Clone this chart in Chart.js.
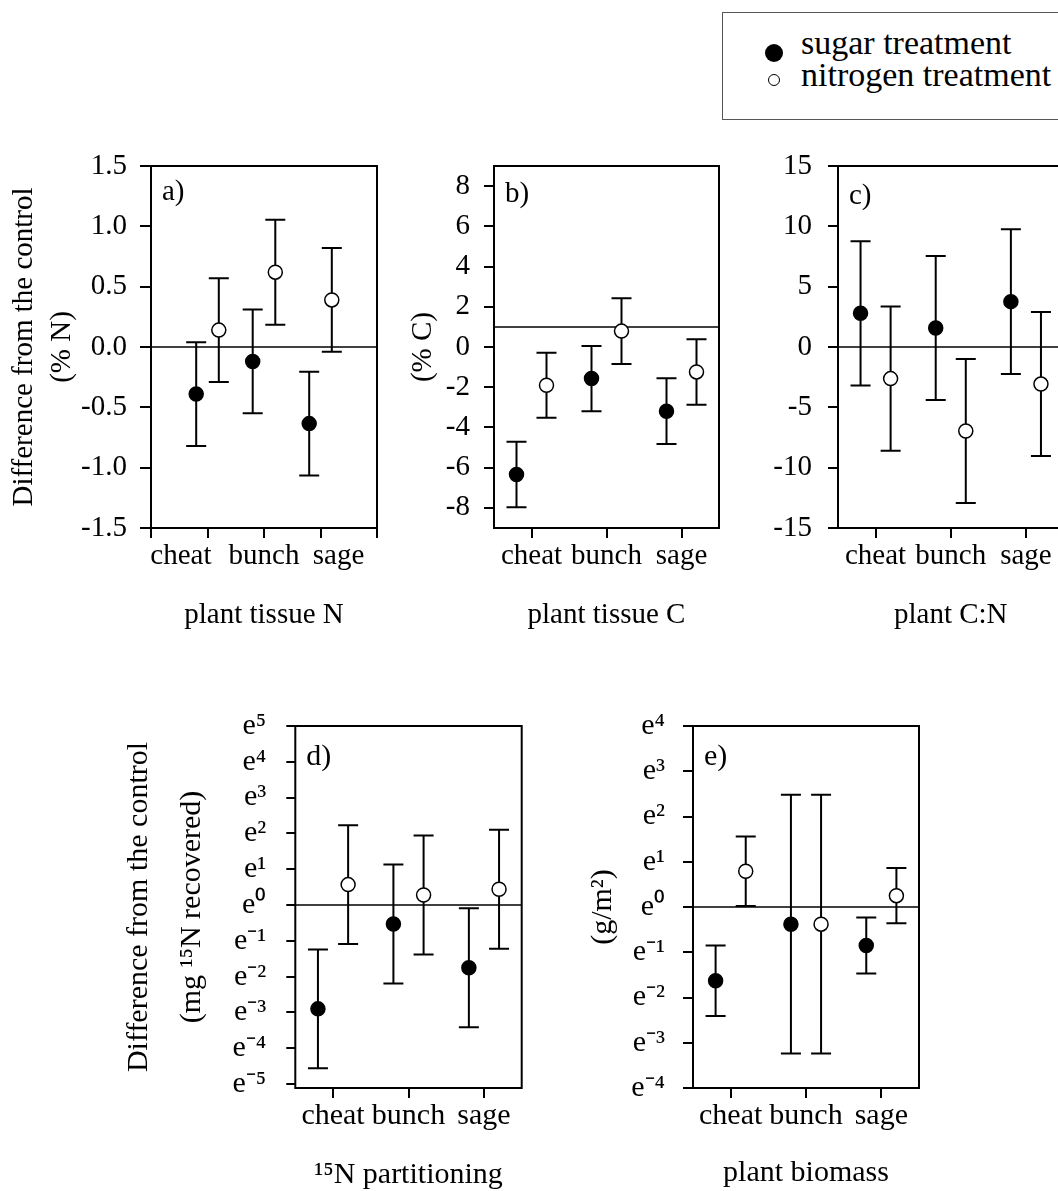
<!DOCTYPE html>
<html>
<head>
<meta charset="utf-8">
<script src="https://cdn.jsdelivr.net/npm/chart.js@4.4.0/dist/chart.umd.min.js"></script>
<style>
    html, body { margin: 0; padding: 0; width: 1058px; height: 1191px; overflow: hidden; background: #fff; }
    canvas.panel { position: absolute; }
    #legend {
        position: absolute; left: 722px; top: 12px; width: 420px; height: 108px;
        border: 1.5px solid #555; box-sizing: border-box;
        font-family: 'Liberation Serif', 'Times New Roman', serif; font-size: 34px; color: #000;
    }
    #legend .dot { position: absolute; border-radius: 50%; box-sizing: border-box; }
    #legend .filled { left: 42px; top: 31px; width: 18px; height: 18px; background: #000; }
    #legend .open { left: 45px; top: 61px; width: 12px; height: 12px; border: 1.5px solid #000; background: #fff; }
    #legend .txt { position: absolute; left: 78px; line-height: 34px; white-space: nowrap; }
</style>
</head>
<body>

<div id="legend">
    <span class="dot filled"></span><span class="txt" style="top:13px">sugar treatment</span>
    <span class="dot open"></span><span class="txt" style="top:45px">nitrogen treatment</span>
</div>

<canvas id="chartA" class="panel" width="390" height="520" style="left:0;top:120px"></canvas>
<canvas id="chartB" class="panel" width="340" height="520" style="left:390px;top:120px"></canvas>
<canvas id="chartC" class="panel" width="345" height="520" style="left:730px;top:120px"></canvas>
<canvas id="chartD" class="panel" width="440" height="520" style="left:100px;top:680px"></canvas>
<canvas id="chartE" class="panel" width="400" height="520" style="left:540px;top:680px"></canvas>

<script>
const categories = ['cheat', 'bunch', 'sage'];

// a) plant tissue N (% N)
const tissueNSugar = [-0.39, -0.12, -0.635];
const tissueNSugarErr = [0.43, 0.43, 0.43];
const tissueNNitrogen = [0.14, 0.62, 0.39];
const tissueNNitrogenErr = [0.43, 0.435, 0.43];
const tissueNTicks = [-1.5, -1.0, -0.5, 0, 0.5, 1.0, 1.5];

// b) plant tissue C (% C)
const tissueCSugar = [-6.34, -1.57, -3.19];
const tissueCSugarErr = [1.63, 1.62, 1.63];
const tissueCNitrogen = [-1.90, 0.79, -1.24];
const tissueCNitrogenErr = [1.62, 1.63, 1.63];
const tissueCTicks = [-8, -6, -4, -2, 0, 2, 4, 6, 8];

// c) plant C:N
const ratioSugar = [2.79, 1.57, 3.76];
const ratioSugarErr = [5.98, 5.97, 6.0];
const ratioNitrogen = [-2.62, -6.96, -3.07];
const ratioNitrogenErr = [5.98, 5.97, 5.97];
const ratioTicks = [-15, -10, -5, 0, 5, 10, 15];

// d) 15N partitioning (natural log scale, exponents of e)
const partSugar = [-2.90, -0.53, -1.75];
const partSugarErr = [1.66, 1.66, 1.66];
const partNitrogen = [0.57, 0.28, 0.44];
const partNitrogenErr = [1.66, 1.66, 1.66];
const partTicks = [-5, -4, -3, -2, -1, 0, 1, 2, 3, 4, 5];

// e) plant biomass (natural log scale, exponents of e)
const biomassSugar = [-1.63, -0.38, -0.85];
const biomassSugarErr = [0.78, 2.86, 0.62];
const biomassNitrogen = [0.79, -0.38, 0.25];
const biomassNitrogenErr = [0.77, 2.86, 0.61];
const biomassTicks = [-4, -3, -2, -1, 0, 1, 2, 3, 4];

const FONT = "'Liberation Serif', 'Times New Roman', serif";
Chart.defaults.font.family = FONT;
Chart.defaults.color = '#000';

const SUP = { '-': '\u207B', '0': '\u2070', '1': '\u00B9', '2': '\u00B2', '3': '\u00B3', '4': '\u2074', '5': '\u2075' };
function expLabel(v) {
    return 'e' + String(v).split('').map(c => SUP[c]).join('');
}

// reference line, error bars, frame and panel letter
const panelPlugin = {
    id: 'panelExtras',
    beforeDatasetsDraw(chart, args, opts) {
        const { ctx, chartArea: area, scales: { y } } = chart;
        ctx.save();
        ctx.strokeStyle = '#000';
        ctx.lineWidth = 1.5;
        const yRef = y.getPixelForValue(opts.refLine);
        ctx.beginPath();
        ctx.moveTo(area.left, yRef);
        ctx.lineTo(area.right, yRef);
        ctx.stroke();

        ctx.lineWidth = 2;
        chart.data.datasets.forEach((ds, i) => {
            const meta = chart.getDatasetMeta(i);
            ds.errors.forEach((err, j) => {
                const xp = meta.data[j].x;
                const yTop = y.getPixelForValue(ds.data[j].y + err);
                const yBot = y.getPixelForValue(ds.data[j].y - err);
                ctx.beginPath();
                ctx.moveTo(xp, yTop); ctx.lineTo(xp, yBot);
                ctx.moveTo(xp - 10, yTop); ctx.lineTo(xp + 10, yTop);
                ctx.moveTo(xp - 10, yBot); ctx.lineTo(xp + 10, yBot);
                ctx.stroke();
            });
        });
        ctx.restore();
    },
    afterDraw(chart, args, opts) {
        const { ctx, chartArea: area } = chart;
        ctx.save();
        ctx.strokeStyle = '#000';
        ctx.lineWidth = 2;
        ctx.strokeRect(area.left, area.top, area.right - area.left, area.bottom - area.top);
        ctx.fillStyle = '#000';
        ctx.font = opts.fontSize + 'px ' + FONT;
        ctx.textBaseline = 'alphabetic';
        ctx.fillText(opts.letter, area.left + 11, area.top + opts.letterDy);
        ctx.restore();
    }
};

function makePanel(canvasId, p) {
    const el = document.getElementById(canvasId);
    const points = (vals, shift) => vals.map((v, i) => ({ x: i + 1 + shift, y: v }));
    const xTicks = p.xTicks || [1, 2, 3];
    const xLabel = p.xLabel || (v => categories[v - 1]);

    const yScale = {
        type: 'linear',
        min: p.yMin,
        max: p.yMax,
        afterBuildTicks: axis => { axis.ticks = p.yTicks.map(v => ({ value: v })); },
        afterFit: axis => { axis.width = p.yWidth; },
        ticks: { padding: p.yLabelPad, autoSkip: false, font: { size: p.fontSize }, callback: p.yFormat },
        grid: { drawOnChartArea: false, tickLength: p.yTickLen, lineWidth: 2, color: '#000' },
        border: { display: false }
    };
    if (p.yTitle) {
        yScale.title = {
            display: true,
            text: p.yTitle,
            font: { size: p.fontSize, lineHeight: p.yTitleLine },
            padding: { top: p.yTitlePad, bottom: 0 }
        };
    }

    return new Chart(el, {
        type: 'scatter',
        data: {
            datasets: [
                {
                    label: 'sugar treatment',
                    data: points(p.sugar, -0.2),
                    errors: p.sugarErr,
                    pointRadius: 7,
                    pointBorderWidth: 1.5,
                    pointBackgroundColor: '#000',
                    pointBorderColor: '#000'
                },
                {
                    label: 'nitrogen treatment',
                    data: points(p.nitrogen, 0.2),
                    errors: p.nitrogenErr,
                    pointRadius: 7,
                    pointBorderWidth: 1.5,
                    pointBackgroundColor: '#fff',
                    pointBorderColor: '#000'
                }
            ]
        },
        options: {
            responsive: false,
            animation: false,
            events: [],
            layout: { padding: p.padding },
            plugins: {
                legend: { display: false },
                tooltip: { enabled: false },
                panelExtras: { refLine: p.refLine, letter: p.letter, letterDy: p.letterDy, fontSize: p.fontSize }
            },
            scales: {
                x: {
                    type: 'linear',
                    min: p.xMin,
                    max: p.xMax,
                    afterBuildTicks: axis => { axis.ticks = xTicks.map(v => ({ value: v })); },
                    afterFit: axis => { axis.height = p.xHeight; },
                    ticks: {
                        padding: p.xLabelPad,
                        autoSkip: false,
                        maxRotation: 0,
                        font: { size: p.fontSize },
                        callback: v => xLabel(v)
                    },
                    grid: {
                        drawOnChartArea: false,
                        tickLength: 10,
                        lineWidth: 2,
                        color: '#000',
                        tickColor: c => (Number.isInteger(c.tick.value) ? '#000' : 'rgba(0,0,0,0)')
                    },
                    border: { display: false },
                    title: {
                        display: true,
                        text: p.xTitle,
                        font: { size: p.fontSize },
                        padding: { top: 0, bottom: p.xTitlePad }
                    }
                },
                y: yScale
            }
        },
        plugins: [panelPlugin]
    });
}

document.addEventListener('DOMContentLoaded', function() {

    // --- a) plant tissue N ---
    // the labels of this panel sit off their ticks in the original
    const labelsA = { 0.53: 'cheat', 2: 'bunch', 3.32: 'sage' };
    makePanel('chartA', {
        sugar: tissueNSugar, sugarErr: tissueNSugarErr,
        nitrogen: tissueNNitrogen, nitrogenErr: tissueNNitrogenErr,
        yMin: -1.5, yMax: 1.5, yTicks: tissueNTicks, yFormat: v => v.toFixed(1),
        xMin: 0, xMax: 4, xTicks: [0, 0.53, 1, 2, 3, 3.32, 4], xLabel: v => labelsA[v] || '',
        padding: { left: 0, top: 46, right: 13, bottom: 0 },
        yWidth: 151, xHeight: 112, yLabelPad: 13, yTickLen: 11, xLabelPad: 1,
        yTitle: ['Difference from the control', '(% N)'], yTitlePad: 6, yTitleLine: '37.7px',
        xTitle: 'plant tissue N', xTitlePad: 7,
        refLine: 0, letter: 'a)', letterDy: 34, fontSize: 29
    });

    // --- b) plant tissue C ---
    makePanel('chartB', {
        sugar: tissueCSugar, sugarErr: tissueCSugarErr,
        nitrogen: tissueCNitrogen, nitrogenErr: tissueCNitrogenErr,
        yMin: -9, yMax: 9, yTicks: tissueCTicks, yFormat: v => String(v),
        xMin: 0.5, xMax: 3.5,
        padding: { left: 0, top: 46, right: 11, bottom: 0 },
        yWidth: 104, xHeight: 112, yLabelPad: 14, yTickLen: 10, xLabelPad: 1,
        yTitle: ['(% C)'], yTitlePad: 16, yTitleLine: 1.2,
        xTitle: 'plant tissue C', xTitlePad: 7,
        refLine: 1, letter: 'b)', letterDy: 36, fontSize: 29
    });

    // --- c) plant C:N ---
    makePanel('chartC', {
        sugar: ratioSugar, sugarErr: ratioSugarErr,
        nitrogen: ratioNitrogen, nitrogenErr: ratioNitrogenErr,
        yMin: -15, yMax: 15, yTicks: ratioTicks, yFormat: v => String(v),
        xMin: 0.5, xMax: 3.5,
        padding: { left: 0, top: 46, right: 11.5, bottom: 0 },
        yWidth: 108, xHeight: 112, yLabelPad: 16, yTickLen: 10, xLabelPad: 1,
        xTitle: 'plant C:N', xTitlePad: 7,
        refLine: 0, letter: 'c)', letterDy: 38, fontSize: 29
    });

    // --- d) 15N partitioning ---
    makePanel('chartD', {
        sugar: partSugar, sugarErr: partSugarErr,
        nitrogen: partNitrogen, nitrogenErr: partNitrogenErr,
        yMin: -5.11, yMax: 5, yTicks: partTicks, yFormat: expLabel,
        xMin: 0.5, xMax: 3.5,
        padding: { left: 0, top: 46, right: 18.3, bottom: 0 },
        yWidth: 195.3, xHeight: 112, yLabelPad: 20, yTickLen: 9, xLabelPad: 0,
        yTitle: ['Difference from the control', '(mg \u00B9\u2075N recovered)'], yTitlePad: 13, yTitleLine: '53px',
        xTitle: '\u00B9\u2075N partitioning', xTitlePad: 7,
        refLine: 0, letter: 'd)', letterDy: 39, fontSize: 30
    });

    // --- e) plant biomass ---
    makePanel('chartE', {
        sugar: biomassSugar, sugarErr: biomassSugarErr,
        nitrogen: biomassNitrogen, nitrogenErr: biomassNitrogenErr,
        yMin: -4, yMax: 4, yTicks: biomassTicks, yFormat: expLabel,
        xMin: 0.5, xMax: 3.5,
        padding: { left: 0, top: 46, right: 21, bottom: 0 },
        yWidth: 153, xHeight: 112, yLabelPad: 18, yTickLen: 10, xLabelPad: 0,
        yTitle: ['(g/m\u00B2)'], yTitlePad: 45, yTitleLine: 1.2,
        xTitle: 'plant biomass', xTitlePad: 9,
        refLine: 0, letter: 'e)', letterDy: 39, fontSize: 30
    });
});
</script>
</body>
</html>
